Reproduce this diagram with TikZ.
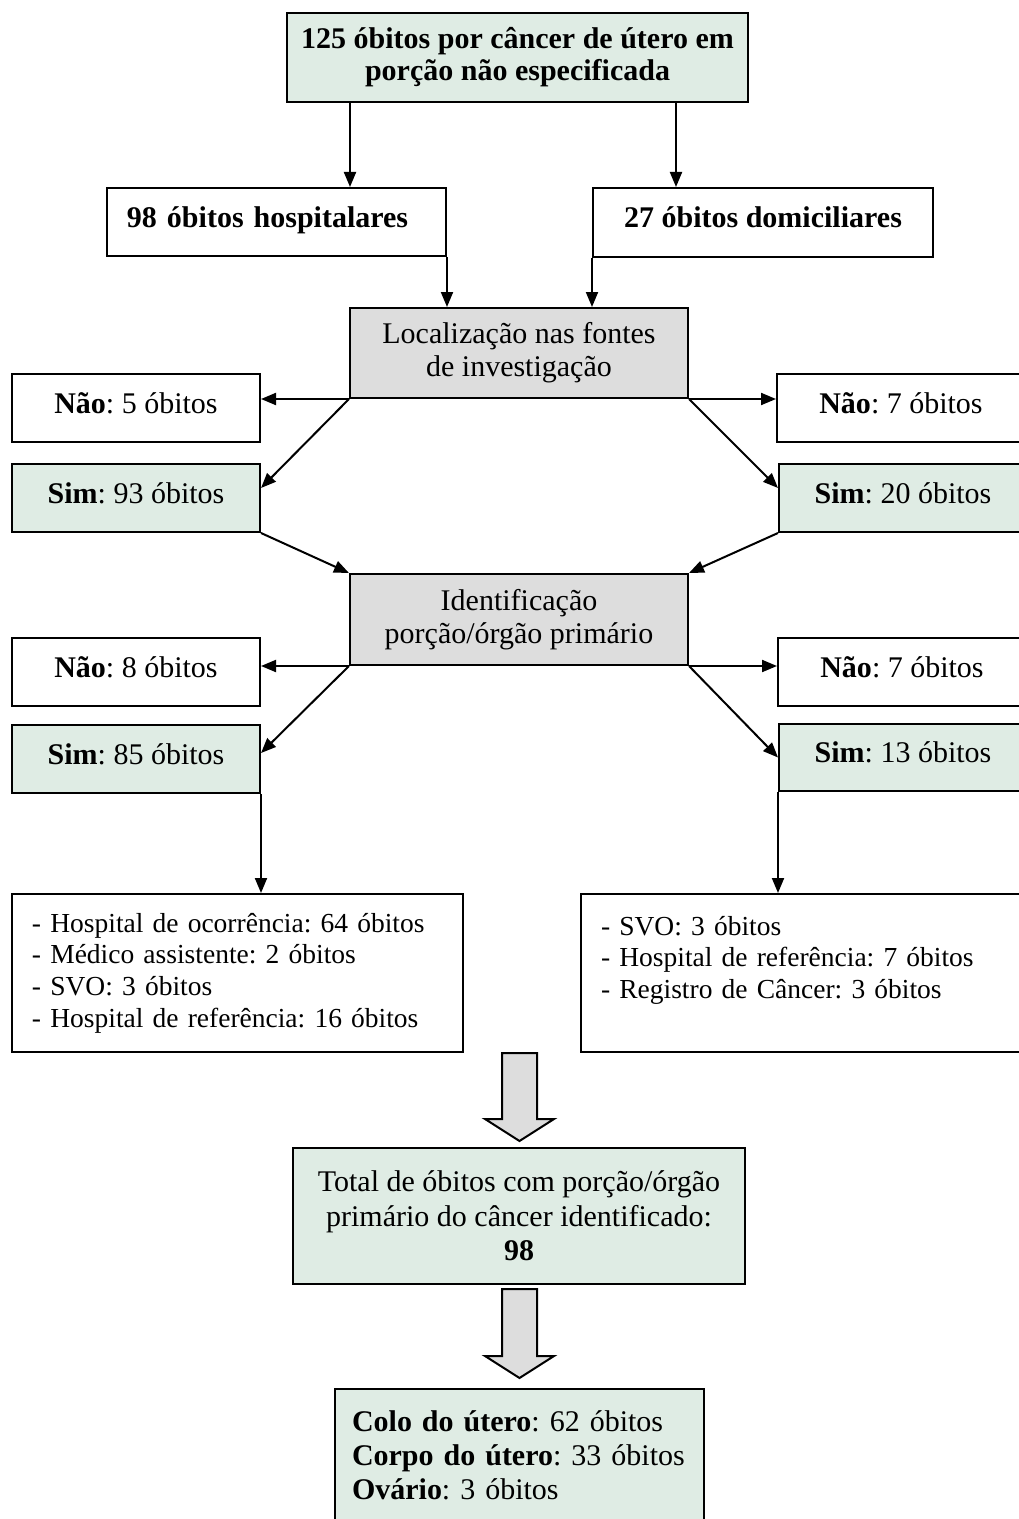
\documentclass[tikz,border=0pt]{standalone}
\usepackage{fontspec}
\setmainfont{Liberation Serif}
\usetikzlibrary{arrows.meta,calc}
\definecolor{boxgreen}{RGB}{223,236,228}
\definecolor{boxgray}{RGB}{221,221,221}
\frenchspacing
\begin{document}
\begin{tikzpicture}[x=0.4pt,y=-0.4pt,
  sz/.style 2 args={minimum width=#1*0.4pt, minimum height=#2*0.4pt},
  base/.style={draw, line width=0.8pt, inner sep=0pt, align=center,
    font=\fontsize{12}{13.8}\selectfont},
  oneline/.style={text height=8pt, text depth=4pt},
  greenbox/.style={base, fill=boxgreen},
  graybox/.style={base, fill=boxgray},
  whitebox/.style={base, fill=white},
  listbox/.style={base, fill=white, align=left, inner xsep=8pt,
    font=\fontsize{11}{12.65}\selectfont},
  arr/.style={line width=0.8pt, -{Triangle[length=6pt,width=4.8pt]}},
  blockarrow/.style={draw, line width=0.8pt, fill=boxgray, line join=miter}
]
\useasboundingbox (0,0) rectangle (1019,1519);

% top
\node[greenbox, sz={461}{89}, font=\fontsize{12}{12.8}\selectfont\bfseries] (top) at (517.5,57.5)
  {125 óbitos por câncer de útero em\\porção não especificada};
\node[whitebox, sz={339}{68}, font=\fontsize{12}{13.8}\selectfont\bfseries,
  align=left, inner xsep=8pt, text width=119.6pt, text height=8pt, text depth=4pt] (hosp) at (276.5,222)
  {98 óbitos hospitalares};
\node[whitebox, sz={340}{69}, font=\fontsize{12}{13.8}\selectfont\bfseries,
  text height=8pt, text depth=4pt] (dom) at (763,222.5)
  {27 óbitos domiciliares};

% localizacao
\node[graybox, sz={338}{90}, font=\fontsize{12}{13.2}\selectfont] (loc) at (519,353)
  {Localização nas fontes\\de investigação};
\node[whitebox, oneline, sz={248}{68}] (nao1) at (136,408) {\textbf{Não}: 5 óbitos};
\node[greenbox, oneline, sz={248}{68}] (sim1) at (136,498) {\textbf{Sim}: 93 óbitos};
\node[whitebox, oneline, sz={248}{68}] (nao2) at (901,408) {\textbf{Não}: 7 óbitos};
\node[greenbox, oneline, sz={248}{68}] (sim2) at (903,498) {\textbf{Sim}: 20 óbitos};

% identificacao
\node[graybox, sz={338}{91}, font=\fontsize{12}{13.2}\selectfont] (ident) at (519,619.5)
  {Identificação\\porção/órgão primário};
\node[whitebox, oneline, sz={248}{68}] (nao3) at (136,672) {\textbf{Não}: 8 óbitos};
\node[greenbox, oneline, sz={248}{68}] (sim3) at (136,759) {\textbf{Sim}: 85 óbitos};
\node[whitebox, oneline, sz={248}{68}] (nao4) at (902,672) {\textbf{Não}: 7 óbitos};
\node[greenbox, oneline, sz={248}{67}] (sim4) at (903,757.5) {\textbf{Sim}: 13 óbitos};

% lists
\node[listbox, sz={451}{158}, text width=164.4pt] (listL) at (237.5,973)
  {- Hospital de ocorrência: 64 óbitos\\- Médico assistente: 2 óbitos\\- SVO: 3 óbitos\\- Hospital de referência: 16 óbitos};
\node[listbox, sz={451}{158}, text width=164.4pt] (listR) at (806.5,973)
  {- SVO: 3 óbitos\\- Hospital de referência: 7 óbitos\\- Registro de Câncer: 3 óbitos\\\mbox{}};

% totals
\node[greenbox, sz={452}{136}] (total) at (519,1216)
  {Total de óbitos com porção/órgão\\primário do câncer identificado:\\\textbf{98}};
\node[greenbox, sz={369}{132}, align=left, inner xsep=6.8pt, text width=134pt,
  font=\fontsize{12}{13.6}\selectfont] (final) at (519.5,1455)
  {\textbf{Colo do útero}: 62 óbitos\\\textbf{Corpo do útero}: 33 óbitos\\\textbf{Ovário}: 3 óbitos};

% connectors
\draw[arr] (350,0 |- top.south) -- (350,0 |- hosp.north);
\draw[arr] (676,0 |- top.south) -- (676,0 |- dom.north);
\draw[arr] (hosp.south east) -- (hosp.south east |- loc.north);
\draw[arr] (dom.south west) -- (dom.south west |- loc.north);

\draw[arr] (loc.south west) -- (loc.south west -| nao1.east);
\draw[arr] (loc.south west) -- ([yshift=4pt]sim1.east);
\draw[arr] (loc.south east) -- (loc.south east -| nao2.west);
\draw[arr] (loc.south east) -- ([yshift=4pt]sim2.west);

\draw[arr] (sim1.south east) -- (ident.north west);
\draw[arr] (sim2.south west) -- (ident.north east);

\draw[arr] (ident.south west) -- (ident.south west -| nao3.east);
\draw[arr] (ident.south west) -- ([yshift=2.4pt]sim3.east);
\draw[arr] (ident.south east) -- (ident.south east -| nao4.west);
\draw[arr] (ident.south east) -- (sim4.west);

\draw[arr] (sim3.south east) -- (sim3.south east |- listL.north);
\draw[arr] (sim4.south west) -- (sim4.south west |- listR.north);

% block arrows
\draw[blockarrow] (502,1053) -- (537,1053) -- (537,1119) -- (554,1119) -- (519.5,1141)
  -- (485,1119) -- (502,1119) -- cycle;
\draw[blockarrow] (502,1289) -- (537,1289) -- (537,1356) -- (554,1356) -- (519.5,1378)
  -- (485,1356) -- (502,1356) -- cycle;
\end{tikzpicture}
\end{document}
